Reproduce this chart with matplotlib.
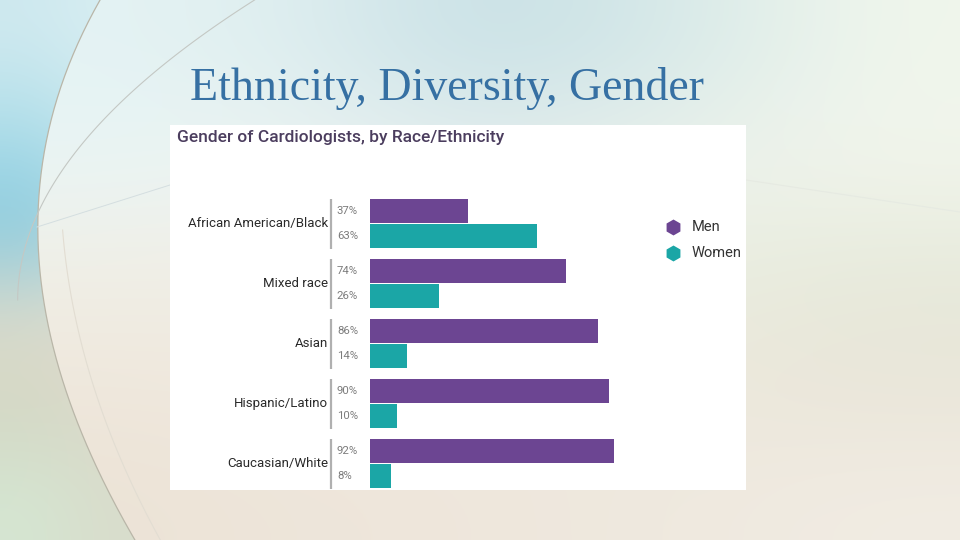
import numpy as np
import matplotlib
matplotlib.use("Agg")
import matplotlib.pyplot as plt
from matplotlib.patches import Rectangle, Polygon
from matplotlib.colors import to_rgb
import matplotlib.transforms as mtransforms

# ---------------- data ----------------
categories = ["African American/Black", "Mixed race", "Asian",
              "Hispanic/Latino", "Caucasian/White"]
men = [37, 74, 86, 90, 92]
women = [63, 26, 14, 10, 8]
series_names = ["Men", "Women"]
slide_title = "Ethnicity, Diversity, Gender"
chart_title = "Gender of Cardiologists, by Race/Ethnicity"

PURPLE = "#6c4592"
TEAL = "#1ba6a6"

W, H = 960, 540
fig = plt.figure(figsize=(9.6, 5.4), dpi=100)

def fx(x):
    return x / W

def fy(y):
    return 1 - y / H

# ---------------- background ----------------
bg = fig.add_axes([0, 0, 1, 1])
bg.set_xlim(0, W)
bg.set_ylim(H, 0)
bg.axis("off")

main_grid = [
    ["#e4f3f4", "#e0eff0", "#c6dfe5", "#d6e9e9", "#f0f6ec"],
    ["#eaf5f5", "#eef5f3", "#e4eeef", "#ecf2ec", "#f2f5ec"],
    ["#f0efe6", "#f1eee6", "#eeeee6", "#eaeee0", "#e6eadb"],
    ["#efe8dd", "#f0e9de", "#efe9df", "#ede8dc", "#e9e5d8"],
    ["#ece3d6", "#eee5da", "#eee7dc", "#efe9df", "#f1ece3"],
]
arr = np.array([[to_rgb(c) for c in row] for row in main_grid])
bg.imshow(arr, extent=[0, W, H, 0], interpolation="bicubic", aspect="auto", zorder=0)

# left darker region bounded by a curve
ys = np.array([0, 150, 230, 330, 430, 540])
xs = np.array([100, 45, 37, 50, 80, 135])
coef = np.polyfit(ys, xs, 3)
yy = np.linspace(0, H, 200)
xx = np.polyval(coef, yy)
left_grid = [
    ["#cfe9ef", "#d8eef2"],
    ["#acdde9", "#c6e7ee"],
    ["#86c9de", "#acd9e5"],
    ["#dddccd", "#e3dfd1"],
    ["#d3d6c3", "#dbd9ca"],
    ["#d5e6d2", "#d9ddcc"],
]
larr = np.array([[to_rgb(c) for c in row] for row in left_grid])
im = bg.imshow(larr, extent=[0, 140, H, 0], interpolation="bicubic", aspect="auto", zorder=1)
poly = Polygon(np.column_stack([np.concatenate([[0], xx, [0]]),
                                np.concatenate([[0], yy, [H]])]),
               closed=True, transform=bg.transData, facecolor="none", edgecolor="none")
bg.add_patch(poly)
im.set_clip_path(poly)
bg.plot(xx, yy, color="#b9b6a8", lw=0.9, zorder=2)

# second arc from top crossing the first
ys2 = np.array([0, 80, 160, 227, 300])
xs2 = np.array([257, 140, 70, 37, 15])
c2 = np.polyfit(ys2, xs2, 2)
yy2 = np.linspace(0, 300, 100)
bg.plot(np.polyval(c2, yy2), yy2, color="#c4c8c4", lw=0.8, zorder=2)
# faint line inside light region
ys3 = np.array([230, 330, 430, 540])
xs3 = np.array([48, 62, 95, 145])
c3 = np.polyfit(ys3, xs3, 2)
yy3 = np.linspace(230, 540, 100)
bg.plot(np.polyval(c3, yy3) + 15, yy3, color="#e2ddd2", lw=0.8, zorder=2)
bg.plot([37, 170], [227, 185], color="#d4dee0", lw=0.7, zorder=2)
bg.plot([746, 960], [180, 212], color="#e6eae2", lw=0.8, zorder=2)

# white panel (embedded chart image)
bg.add_patch(Rectangle((170, 125), 576, 365, facecolor="white", edgecolor="none", zorder=3))

# slide title
fig.text(fx(190), fy(100), slide_title, fontsize=33, color="#3670a3",
         family=["Liberation Serif", "DejaVu Serif"], ha="left", va="baseline")

# chart title
fig.text(fx(177), fy(142), chart_title, fontsize=12.5, color="#4b3d5e",
         family=["Roboto", "DejaVu Sans"],
         fontweight="medium", ha="left", va="baseline")

# ---------------- bar chart ----------------
top_px, bot_px = 190, 500
ax = fig.add_axes([fx(370), fy(bot_px), 265 / W, (bot_px - top_px) / H])
ax.set_xlim(0, 100)
g0 = 223.5
ax.set_ylim((bot_px - g0) / 60, (top_px - g0) / 60)
ax.axis("off")
ax.patch.set_alpha(0)

idx = np.arange(len(categories))
off = 0.21
hgt = 0.41
ax.barh(idx - off, men, height=hgt, color=PURPLE, zorder=3)
ax.barh(idx + off, women, height=hgt, color=TEAL, zorder=3)

trans = mtransforms.blended_transform_factory(ax.transAxes, ax.transData)
for i, cat in enumerate(categories):
    ax.plot([-0.147, -0.147], [i - 0.41, i + 0.42], transform=trans,
            color="#b0b0b0", lw=1.6, clip_on=False, solid_capstyle="butt")
    ax.text(-0.158, i, cat, transform=trans, ha="right", va="center",
            fontsize=9.5, color="#2a2a2a", family=["Roboto", "DejaVu Sans"])
    ax.text(-0.125, i - off, f"{men[i]}%", transform=trans, ha="left", va="center",
            fontsize=8.2, color="#7c7c7c", family=["Roboto", "DejaVu Sans"])
    ax.text(-0.125, i + off, f"{women[i]}%", transform=trans, ha="left", va="center",
            fontsize=8.2, color="#7c7c7c", family=["Roboto", "DejaVu Sans"])

# legend
for k, (name, col) in enumerate(zip(series_names, [PURPLE, TEAL])):
    y = 227 + 26 * k
    bg.plot([673], [y], marker="h", markersize=11.5, color=col, zorder=5,
            markeredgewidth=0)
    fig.text(fx(692), fy(y), name, fontsize=10.5, color="#333333",
             family=["Roboto", "DejaVu Sans"], ha="left", va="center")

fig.savefig("out.png", dpi=100)
